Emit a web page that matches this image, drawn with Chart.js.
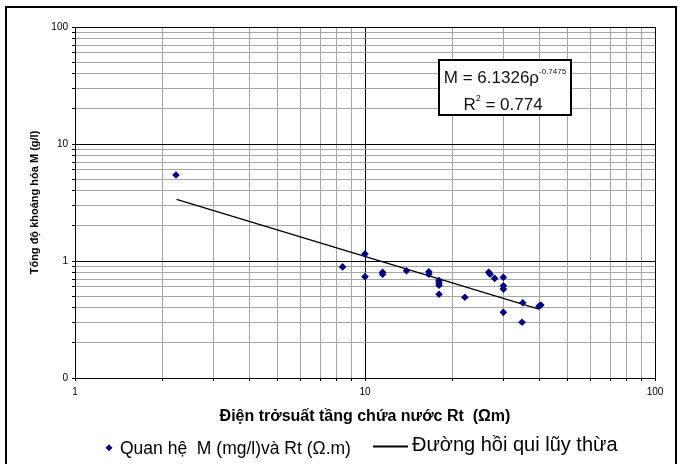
<!DOCTYPE html>
<html>
<head>
<meta charset="utf-8">
<script src="https://cdn.jsdelivr.net/npm/chart.js@4.4.1/dist/chart.umd.min.js"></script>
<style>
html,body{margin:0;padding:0;background:#fff;}
canvas{display:block;}
</style>
</head>
<body>
<canvas id="c" width="681" height="464"></canvas>
<script>
// ---- data ----
const resistivity = [2.23, 8.37, 10.0, 10.0, 11.5, 11.5, 13.9, 16.6, 16.6, 18.0, 18.0, 18.0, 18.0, 22.1, 26.7, 27.0, 28.0, 30.0, 30.0, 30.0, 30.0, 34.8, 35.0, 39.8, 40.4];
const mineralization = [5.43, 0.89, 1.15, 0.735, 0.80, 0.77, 0.825, 0.81, 0.77, 0.68, 0.65, 0.62, 0.52, 0.49, 0.80, 0.77, 0.71, 0.725, 0.615, 0.575, 0.364, 0.30, 0.44, 0.41, 0.42];
const trendX = [2.24, 39.5];
const trendY = [3.37, 0.39];

const xDecades = [1, 10, 100];
const xTickLabels = ['1', '10', '100'];
const yDecades = [0.1, 1, 10, 100];
const yTickLabels = ['0', '1', '10', '100'];
const minorSteps = [1, 2, 3, 4, 5, 6, 7, 8, 9];

const xTitle = 'Điện trởsuất tầng chứa nước Rt  (Ωm)';
const yTitle = 'Tổng độ khoáng hóa M (g/l)';
const seriesNames = ['Quan hệ  M (mg/l)và Rt (Ω.m)', 'Đường hồi qui lũy thừa'];
const eqMain = 'M = 6.1326ρ';
const eqExp = '-0.7475';
const r2Text = ' = 0.774';

const NARROW = "'Liberation Sans Narrow', 'Arial Narrow', 'Liberation Sans', Arial, sans-serif";
const SANS = "'Liberation Sans', Arial, sans-serif";
const POINT_COLOR = '#000080';

function buildTicks(decades, labels) {
  const t = [];
  decades.forEach((d, i) => {
    if (i === decades.length - 1) { t.push({ value: d, major: true, label: labels[i] }); return; }
    minorSteps.forEach(m => t.push({ value: +(d * m).toPrecision(6), major: m === 1, label: m === 1 ? labels[i] : '' }));
  });
  return t;
}
const xTicks = buildTicks(xDecades, xTickLabels);
const yTicks = buildTicks(yDecades, yTickLabels);

const points = resistivity.map((x, i) => ({ x, y: mineralization[i] }));
const trend = trendX.map((x, i) => ({ x, y: trendY[i] }));

const decorPlugin = {
  id: 'decor',
  beforeDraw(chart) {
    const ctx = chart.ctx;
    ctx.save();
    ctx.fillStyle = '#fff';
    ctx.fillRect(0, 0, chart.width, chart.height);
    ctx.restore();
  },
  afterDraw(chart) {
    const ctx = chart.ctx;
    ctx.save();
    // outer frame
    ctx.strokeStyle = '#000';
    ctx.lineWidth = 2;
    ctx.strokeRect(6, 7, 670, 470);

    // equation box
    ctx.fillStyle = '#fff';
    ctx.fillRect(439, 60, 132, 55);
    ctx.strokeRect(439, 60, 132, 55);
    ctx.fillStyle = '#111';
    ctx.textBaseline = 'alphabetic';
    ctx.textAlign = 'left';
    ctx.font = '17px ' + SANS;
    const wMain = ctx.measureText(eqMain).width;
    ctx.font = '8px ' + NARROW;
    const wExp = ctx.measureText(eqExp).width;
    let sx = 505 - (wMain + wExp) / 2;
    ctx.font = '17px ' + SANS;
    ctx.fillText(eqMain, sx, 83);
    ctx.font = '8px ' + NARROW;
    ctx.fillText(eqExp, sx + wMain, 74);
    ctx.font = '17px ' + SANS;
    const wR = ctx.measureText('R').width;
    const wR2 = ctx.measureText(r2Text).width;
    ctx.font = '9px ' + SANS;
    const w2 = ctx.measureText('2').width;
    sx = 503 - (wR + w2 + wR2) / 2;
    ctx.font = '17px ' + SANS;
    ctx.fillText('R', sx, 109.5);
    ctx.font = '9px ' + SANS;
    ctx.fillText('2', sx + wR, 101);
    ctx.font = '17px ' + SANS;
    ctx.fillText(r2Text, sx + wR + w2, 109.5);

    // legend
    ctx.fillStyle = POINT_COLOR;
    ctx.beginPath();
    ctx.moveTo(109, 444.2); ctx.lineTo(112.5, 447.7); ctx.lineTo(109, 451.2); ctx.lineTo(105.5, 447.7);
    ctx.closePath(); ctx.fill();
    ctx.fillStyle = '#000';
    ctx.font = '17.5px ' + SANS;
    ctx.fillText(seriesNames[0], 120, 454);
    ctx.strokeStyle = '#000';
    ctx.lineWidth = 2;
    ctx.beginPath(); ctx.moveTo(373, 446.5); ctx.lineTo(408, 446.5); ctx.stroke();
    ctx.font = '20px ' + SANS;
    ctx.fillText(seriesNames[1], 412, 451);
    ctx.restore();
  }
};

const gridColor = c => (c.tick && c.tick.major) ? '#000' : '#a6a6a6';

new Chart(document.getElementById('c'), {
  type: 'scatter',
  data: {
    datasets: [
      {
        label: seriesNames[0],
        data: points,
        pointStyle: 'rectRot',
        pointRadius: 3.8,
        pointBackgroundColor: POINT_COLOR,
        pointBorderColor: POINT_COLOR,
        pointBorderWidth: 0,
        showLine: false
      },
      {
        label: seriesNames[1],
        data: trend,
        showLine: true,
        borderColor: '#000',
        borderWidth: 1.3,
        pointRadius: 0,
        fill: false
      }
    ]
  },
  options: {
    responsive: false,
    animation: false,
    devicePixelRatio: 1,
    layout: { padding: { top: 27, right: 26, left: 0, bottom: 0 } },
    plugins: { legend: { display: false }, tooltip: { enabled: false } },
    scales: {
      x: {
        type: 'logarithmic',
        min: 1, max: 100,
        afterBuildTicks: s => { s.ticks = xTicks.map(t => ({ value: t.value, major: t.major })); },
        afterFit: s => { s.height = 86; },
        ticks: {
          autoSkip: false, maxRotation: 0, padding: 5,
          font: { family: NARROW, size: 10 }, color: '#000',
          callback: (v, i) => xTicks[i] ? xTicks[i].label : ''
        },
        grid: { color: gridColor, tickColor: '#000', lineWidth: 1, tickLength: 3 },
        border: { display: true, color: '#000', width: 1 },
        title: {
          display: true, text: xTitle, color: '#000',
          font: { family: NARROW, size: 16, weight: 'bold' },
          padding: { top: 0, bottom: 38 }
        }
      },
      y: {
        type: 'logarithmic',
        min: 0.1, max: 100,
        afterBuildTicks: s => { s.ticks = yTicks.map(t => ({ value: t.value, major: t.major })); },
        afterFit: s => { s.width = 75; },
        ticks: {
          autoSkip: false, padding: 4,
          font: { family: NARROW, size: 10 }, color: '#000',
          callback: (v, i) => yTicks[i] ? yTicks[i].label : ''
        },
        grid: { color: gridColor, tickColor: '#000', lineWidth: 1, tickLength: 3 },
        border: { display: true, color: '#000', width: 1 },
        title: {
          display: true, text: yTitle, color: '#000',
          font: { family: NARROW, size: 11, weight: 'bold' },
          padding: { top: 28, bottom: 0 }
        }
      }
    }
  },
  plugins: [decorPlugin]
});
</script>
</body>
</html>
